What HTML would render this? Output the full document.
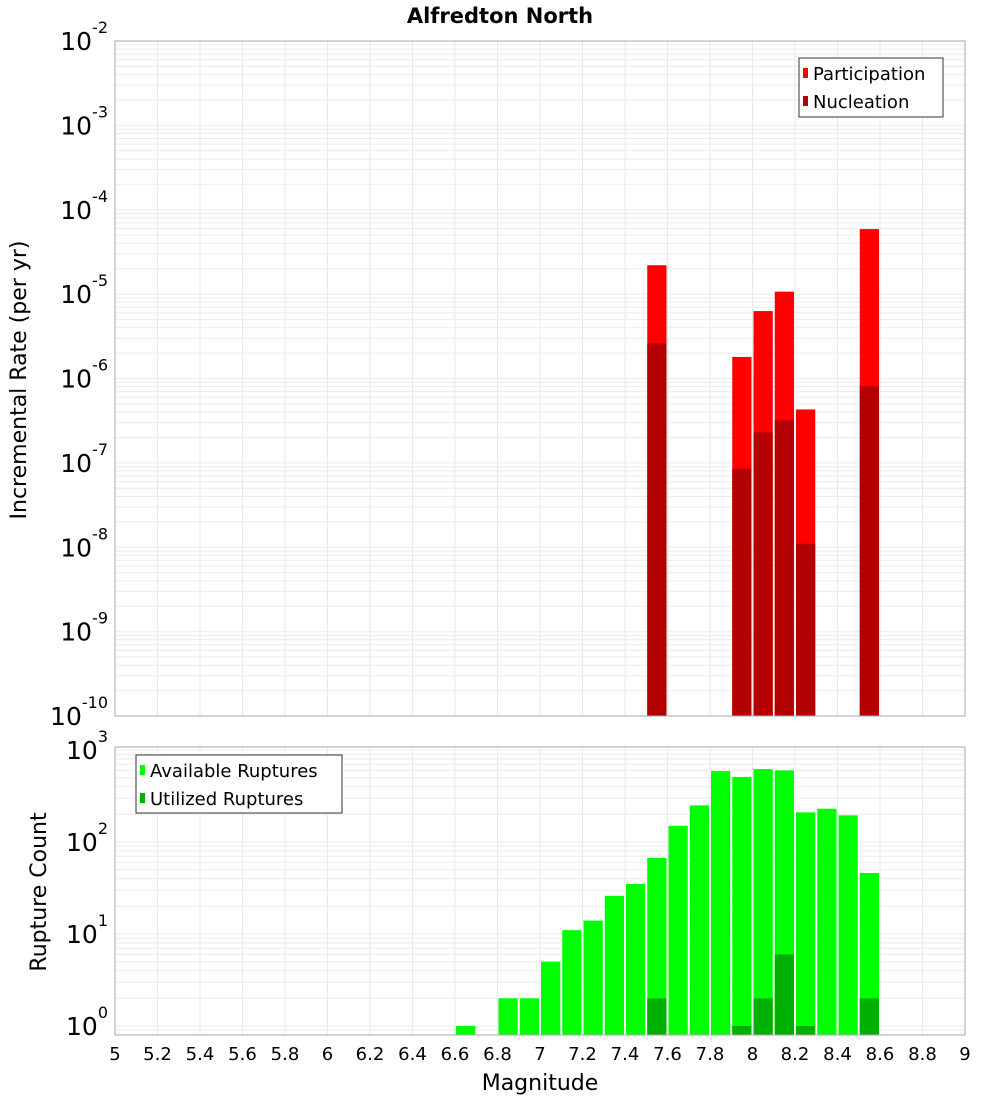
<!DOCTYPE html>
<html><head><meta charset="utf-8"><style>
body{margin:0;background:#fff;}
svg{display:block;font-family:"DejaVu Sans","Liberation Sans",sans-serif;}
</style></head><body>
<svg id="c" width="1000" height="1100" xmlns="http://www.w3.org/2000/svg"></svg>
<script>
const mags = [6.65,6.85,6.95,7.05,7.15,7.25,7.35,7.45,7.55,7.65,7.75,7.85,7.95,8.05,8.15,8.25,8.35,8.45,8.55];
const available = [1,2,2,5,11,14,26,35,67,150,250,590,510,620,600,210,230,195,46];
const utilMags = [7.55,7.95,8.05,8.15,8.25,8.55];
const utilized = [2,1,2,6,1,2];
const rateMags = [7.55,7.95,8.05,8.15,8.25,8.55];
const participation = [2.2e-5,1.8e-6,6.3e-6,1.07e-5,4.3e-7,5.9e-5];
const nucleation = [2.6e-6,8.5e-8,2.3e-7,3.2e-7,1.1e-8,8.1e-7];
const xTicks = [5,5.2,5.4,5.6,5.8,6,6.2,6.4,6.6,6.8,7,7.2,7.4,7.6,7.8,8,8.2,8.4,8.6,8.8,9];
const topDecades = [-10,-9,-8,-7,-6,-5,-4,-3,-2];
const botDecades = [0,1,2,3];

const NS="http://www.w3.org/2000/svg", svg=document.getElementById('c');
function el(t,a,p){const e=document.createElementNS(NS,t);for(const k in a)e.setAttribute(k,a[k]);(p||svg).appendChild(e);return e;}
const X0=115,X1=965;
const x=m=>X0+(m-5)/4*(X1-X0);
const T0=41,T1=716;
const yT=v=>T1-(Math.log10(v)+10)/8*(T1-T0);
const B0=747,B1=1035,BD=92;
const yB=v=>1026-Math.log10(v)*BD;
const bw=(X1-X0)/40;

function grid(top,bot,yf,lo,hi){
  const g=el('g',{});
  
  xTicks.forEach(t=>el('line',{x1:x(t),x2:x(t),y1:top,y2:bot,stroke:'#e8e8e8','stroke-width':1},g));
  for(let d=lo;d<=hi;d++)for(let k=1;k<10;k++){const y=yf(k*Math.pow(10,d));if(y>=top&&y<=bot)el('line',{x1:X0,x2:X1,y1:y,y2:y,stroke:'#ebebeb','stroke-width':1},g);}
}
grid(T0,T1,yT,-10,-3);
grid(B0,B1,yB,-1,3);

// title
const ti=el('text',{x:500,y:23,'text-anchor':'middle','font-size':21,'font-weight':'bold'});ti.textContent='Alfredton North';


// top bars
rateMags.forEach((m,i)=>{
  const p=el('rect',{x:x(m)-bw/2+1,y:yT(participation[i]),width:bw-2,height:T1-yT(participation[i]),fill:'#ff0000'});
  
  const n=el('rect',{x:x(m)-bw/2+1,y:yT(nucleation[i]),width:bw-2,height:T1-yT(nucleation[i]),fill:'#b30000'});
  
});
// bottom bars
mags.forEach((m,i)=>{
  const r=el('rect',{x:x(m)-bw/2+1,y:yB(available[i]),width:bw-2,height:B1-yB(available[i]),fill:'#00ff00'});
  
});
utilMags.forEach((m,i)=>{
  const r=el('rect',{x:x(m)-bw/2+1,y:yB(utilized[i]),width:bw-2,height:B1-yB(utilized[i]),fill:'#00b000'});
  
});

// frames
const f1=el('rect',{x:X0,y:T0,width:X1-X0,height:T1-T0,fill:'none',stroke:'#aaa'});

const f2=el('rect',{x:X0,y:B0,width:X1-X0,height:B1-B0,fill:'none',stroke:'#aaa'});


// y tick labels
function ylab(y,d,name){
  const t=el('text',{x:108,y:y+9,'text-anchor':'end','font-size':25});
  
  const a=el('tspan',{},t);a.textContent='10';
  const b=el('tspan',{dy:-17,'font-size':16},t);b.textContent=String(d);
}
topDecades.forEach(d=>ylab(yT(Math.pow(10,d)),d,'top-y-tick-label'));
botDecades.forEach(d=>ylab(yB(Math.pow(10,d)),d,'bottom-y-tick-label'));

// x tick labels
xTicks.forEach(t=>{
  const e=el('text',{x:x(t),y:1060,'text-anchor':'middle','font-size':18});e.textContent=String(t);
  
});
const xt=el('text',{x:540,y:1090,'text-anchor':'middle','font-size':22});xt.textContent='Magnitude';

const yt1=el('text',{x:0,y:0,'text-anchor':'middle','font-size':22,transform:'translate(26,380) rotate(-90)'});yt1.textContent='Incremental Rate (per yr)';

const yt2=el('text',{x:0,y:0,'text-anchor':'middle','font-size':22,transform:'translate(46,892) rotate(-90)'});yt2.textContent='Rupture Count';


// legends
function legend(bx,by,w,h,items,name){
  const g=el('g',{});
  el('rect',{x:bx,y:by,width:w,height:h,fill:'#fff',stroke:'#333','stroke-width':1},g);
  items.forEach((it,i)=>{
    const cy=by+15+i*28;
    el('rect',{x:bx+4,y:cy-5,width:5,height:10,fill:it[1]},g);
    const t=el('text',{x:bx+14,y:cy+7,'font-size':18},g);t.textContent=it[0];
    
  });
}
legend(799,58,144,59,[['Participation','#ff0000'],['Nucleation','#b30000']],'top-legend');
legend(136,755,206,58,[['Available Ruptures','#00ff00'],['Utilized Ruptures','#00b000']],'bottom-legend');
</script>
</body></html>
